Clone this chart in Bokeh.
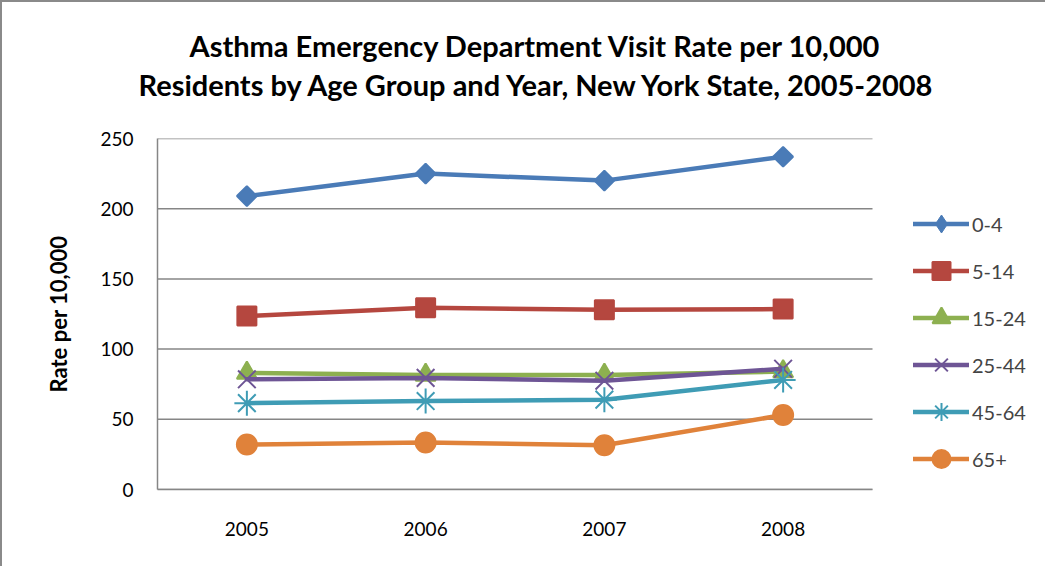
import math
from bokeh.plotting import figure
from bokeh.models import Range1d, FixedTicker, Legend, LegendItem, Title
from bokeh.embed import file_html
from bokeh.resources import INLINE

years = [2005, 2006, 2007, 2008]
age_0_4 = [209, 225, 220, 237]
age_5_14 = [123.5, 129.5, 128, 128.5]
age_15_24 = [83, 81.5, 81.5, 84]
age_25_44 = [78.5, 79.5, 77.5, 86]
age_45_64 = [61.5, 63, 64, 78]
age_65_plus = [32, 33.5, 31.5, 53]

series_names = ["0-4", "5-14", "15-24", "25-44", "45-64", "65+"]
series_values = [age_0_4, age_5_14, age_15_24, age_25_44, age_45_64, age_65_plus]
y_ticks = [0, 50, 100, 150, 200, 250]

title_1 = "Asthma Emergency Department Visit Rate per 10,000"
title_2 = "Residents by Age Group and Year, New York State, 2005-2008"
y_label = "Rate per 10,000"

colors = ["#4A7BB7", "#B5473F", "#8DB050", "#6E5595", "#3F9CB5", "#E0823A"]
markers = ["square", "square", "triangle", "x", "asterisk", "circle"]
sizes = [14, 19, 20, 25, 25, 20]
angles = [math.pi / 4, 0, 0, 0, 0, 0]
FONT = "Lato"
GRAY = "#868686"

# layout (pixels)
W, H = 1045, 566
box_left, box_right = 157, 872      # screen x of x-range 2004.5 .. 2008.5
box_top, box_bottom = 138, 489      # screen y of 250 .. 0
x_lo, x_hi = 2004.5, 2008.5
y_lo, y_hi = 0, 250
ppx = (box_right - box_left) / (x_hi - x_lo)
frame_right = W
x_end = x_lo + (frame_right - box_left) / ppx

p = figure(width=W, height=H, output_backend="svg", toolbar_location=None, title=None,
           x_range=Range1d(x_lo, x_end), y_range=Range1d(y_lo, y_hi),
           min_border_left=box_left - 2, min_border_right=2, min_border_top=box_top - 2,
           min_border_bottom=H - (box_bottom - 2))
p.outline_line_color = None
p.background_fill_color = "white"
p.border_fill_color = "white"
p.styles = {"border-top": "2px solid #8a8a8a", "border-left": "2px solid #8a8a8a"}

p.xgrid.grid_line_color = None
p.ygrid.grid_line_color = None
p.segment(x0=[x_lo] * len(y_ticks), x1=[x_hi] * len(y_ticks), y0=y_ticks, y1=y_ticks,
          line_color=GRAY, line_width=1.5)

p.yaxis.ticker = FixedTicker(ticks=y_ticks)
p.xaxis.ticker = FixedTicker(ticks=years)
p.xaxis.bounds = (x_lo, x_hi)
for ax in (p.xaxis, p.yaxis):
    ax.axis_line_color = GRAY
    ax.axis_line_width = 1.5
    ax.major_tick_line_color = None
    ax.minor_tick_line_color = None
    ax.major_tick_out = 0
    ax.major_label_text_font = FONT
    ax.major_label_text_font_size = "19px"
    ax.major_label_text_color = "black"
p.xaxis.major_label_standoff = 32
p.yaxis.major_label_standoff = 24
p.yaxis.axis_label = y_label
p.yaxis.axis_label_text_font = FONT
p.yaxis.axis_label_text_font_style = "bold"
p.yaxis.axis_label_text_font_size = "22px"
p.yaxis.axis_label_text_color = "black"
p.yaxis.axis_label_standoff = 25

items = []
for i, (name, vals, col, mk, sz, ang) in enumerate(zip(series_names, series_values, colors,
                                                       markers, sizes, angles)):
    r1 = p.line(years, vals, line_color=col, line_width=4.5, line_cap="round", line_join="round")
    if i == 0:
        # diamond drawn under the rotated squares; gives the legend its diamond symbol
        r2 = p.scatter(years, vals, marker="diamond", size=19, fill_color=col, line_color=col)
        p.scatter(years, vals, marker=mk, size=sz, angle=ang, fill_color=col,
                  line_color=col, line_width=2)
    else:
        r2 = p.scatter(years, vals, marker=mk, size=sz, angle=ang, fill_color=col,
                       line_color=col, line_width=2)
    items.append(LegendItem(label=name, renderers=[r1, r2]))

legend = Legend(items=items, location=(913 - box_left, 8), glyph_width=56, glyph_height=45,
                label_height=20, label_standoff=3, spacing=2, padding=0, margin=0,
                border_line_color=None, background_fill_alpha=0,
                label_text_font=FONT, label_text_font_size="20px")
p.add_layout(legend, "center")

title_style = dict(text_font=FONT, text_font_style="bold", text_font_size="29px",
                   text_color="black", align="left")
spacer = Title(text=" ", text_font=FONT, text_font_size="28px", standoff=0)
t2 = Title(text=title_2, offset=-19, standoff=2, **title_style)
t1 = Title(text=title_1, offset=32, standoff=2, **title_style)
p.add_layout(spacer, "above")
p.add_layout(t2, "above")
p.add_layout(t1, "above")

open("out.html", "w").write(file_html(p, INLINE))
